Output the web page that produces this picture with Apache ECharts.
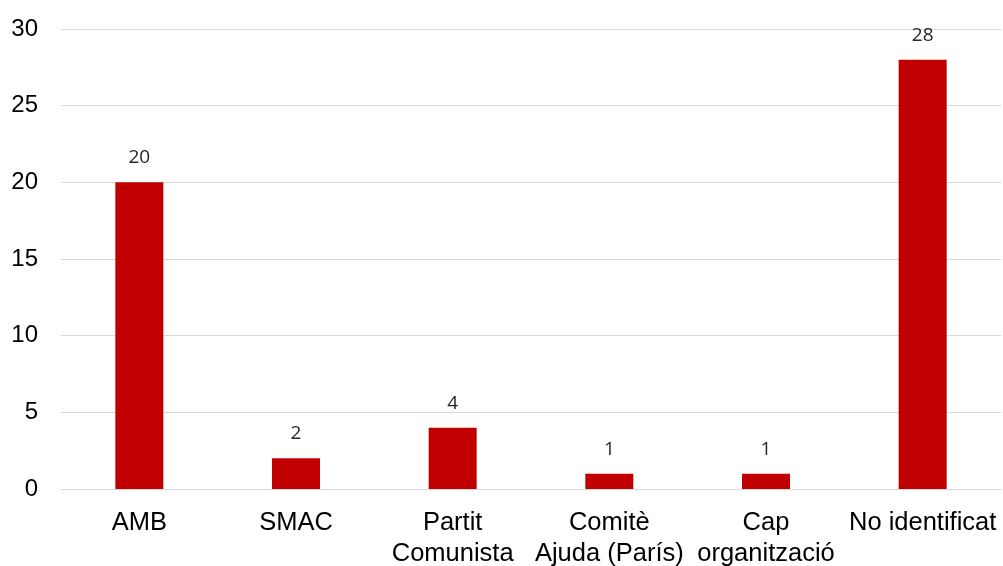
<!DOCTYPE html>
<html>
<head>
<meta charset="utf-8">
<script src="https://cdn.jsdelivr.net/npm/echarts@6/dist/echarts.min.js"></script>
<style>
  html, body { margin: 0; padding: 0; background: #ffffff; }
  #chart { width: 1003px; height: 566px; }
</style>
</head>
<body>
<div id="chart"></div>
<script>
// Organisations behind the cases, with their counts
var categories = ['AMB', 'SMAC', 'Partit\nComunista', 'Comitè\nAjuda (París)', 'Cap\norganització', 'No identificat'];
var counts = [20, 2, 4, 1, 1, 28];
var yTicks = [0, 5, 10, 15, 20, 25, 30];

var chart = echarts.init(document.getElementById('chart'), null, { renderer: 'canvas' });

chart.setOption({
  animation: false,
  backgroundColor: '#ffffff',
  grid: { left: 61, right: 2, top: 29, bottom: 77, containLabel: false, outerBoundsMode: 'none' },
  xAxis: {
    type: 'category',
    data: categories,
    axisLine: { show: true, lineStyle: { color: '#d9d9d9', width: 1 } },
    axisTick: { show: false },
    axisLabel: {
      color: '#000000',
      fontFamily: 'Liberation Sans, Arial, sans-serif',
      fontSize: 25.5,
      lineHeight: 31,
      margin: 18,
      interval: 0
    }
  },
  yAxis: {
    type: 'value',
    min: yTicks[0],
    max: yTicks[yTicks.length - 1],
    interval: yTicks[1] - yTicks[0],
    axisLine: { show: false },
    axisTick: { show: false },
    splitLine: { lineStyle: { color: '#d9d9d9', width: 1 } },
    axisLabel: {
      color: '#000000',
      fontFamily: 'Liberation Sans, Arial, sans-serif',
      fontSize: 24,
      margin: 23
    }
  },
  series: [{
    type: 'bar',
    data: counts,
    barWidth: 48,
    itemStyle: { color: '#c00000' },
    label: {
      show: true,
      position: 'top',
      distance: 15,
      color: '#262626',
      fontFamily: 'Open Sans, sans-serif',
      fontSize: 19
    }
  }]
});
</script>
</body>
</html>
